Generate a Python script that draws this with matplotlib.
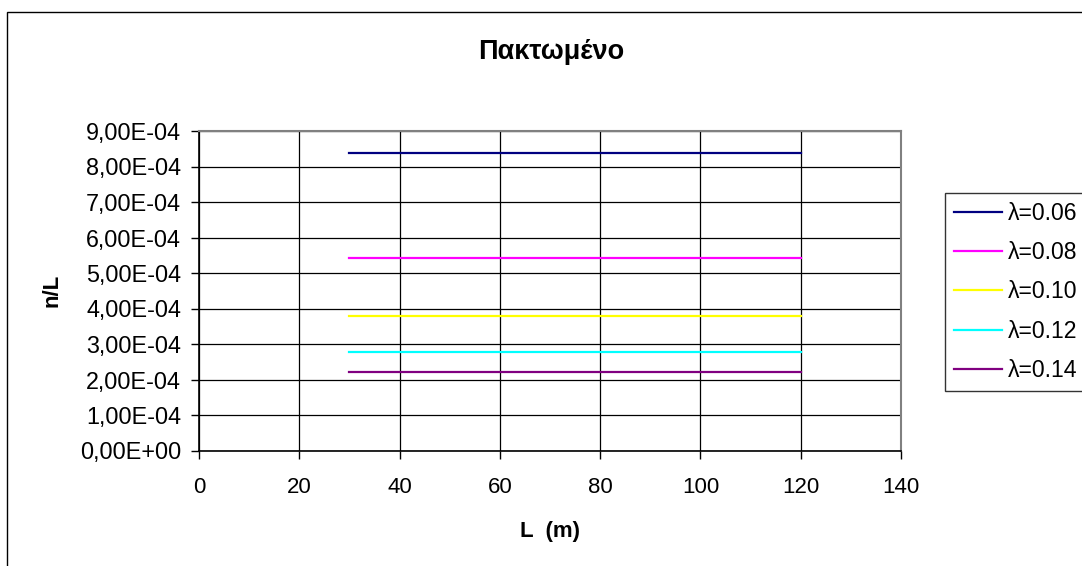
import matplotlib
matplotlib.use("Agg")
import matplotlib.pyplot as plt
from matplotlib.patches import Rectangle
from matplotlib.ticker import FuncFormatter, MultipleLocator

plt.rcParams['font.family'] = ['Liberation Sans', 'DejaVu Sans']

# ---- data ----
L_values = [30, 60, 90, 120]
series_labels = ["λ=0.06", "λ=0.08", "λ=0.10", "λ=0.12", "λ=0.14"]
s006 = [8.38e-4, 8.38e-4, 8.38e-4, 8.38e-4]
s008 = [5.43e-4, 5.43e-4, 5.43e-4, 5.43e-4]
s010 = [3.78e-4, 3.78e-4, 3.78e-4, 3.78e-4]
s012 = [2.78e-4, 2.78e-4, 2.78e-4, 2.78e-4]
s014 = [2.20e-4, 2.20e-4, 2.20e-4, 2.20e-4]
series_values = [s006, s008, s010, s012, s014]
series_colors = ["#000080", "#FF00FF", "#FFFF00", "#00FFFF", "#800080"]

title = "Πακτωμένο"
xlabel = "L  (m)"
ylabel = "n/L"

W, H = 1082, 566
fig = plt.figure(figsize=(W / 100, H / 100), dpi=100)
fig.patch.set_facecolor("white")

# outer chart border (cropped on right/bottom)
fig.patches.append(Rectangle((7 / W, -0.2), 1.5, 1.2 - 12 / H, transform=fig.transFigure,
                             fill=False, edgecolor="black", linewidth=1.0))

left, right = 199 / W, 901 / W
bottom, top = 1 - 450.5 / H, 1 - 131 / H
ax = fig.add_axes([left, bottom, right - left, top - bottom])

handles = []
for vals, lab, col in zip(series_values, series_labels, series_colors):
    h, = ax.plot(L_values, vals, color=col, linewidth=1.6, label=lab, zorder=3)
    handles.append(h)

ax.set_xlim(0, 140)
ax.set_ylim(0, 9e-4)
ax.xaxis.set_major_locator(MultipleLocator(20))
ax.yaxis.set_major_locator(MultipleLocator(1e-4))
ax.yaxis.set_major_formatter(FuncFormatter(lambda v, p: f"{v:.2E}".replace(".", ",")))

ax.grid(True, color="black", linewidth=0.9, zorder=1)
ax.set_axisbelow(True)
for s in ["top", "right"]:
    ax.spines[s].set_color("#808080")
    ax.spines[s].set_linewidth(1.5)
for s in ["left", "bottom"]:
    ax.spines[s].set_color("black")
    ax.spines[s].set_linewidth(1.2)

ax.tick_params(axis="both", direction="out", length=6, width=1, colors="black")
ax.tick_params(axis="y", pad=7, labelsize=16.8)
ax.tick_params(axis="x", pad=13, labelsize=16)

fig.text(551 / W, 1 - 52 / H, title, ha="center", va="center",
         fontsize=19.5, fontweight="bold")
fig.text((left + right) / 2, 1 - 531 / H, xlabel, ha="center", va="center",
         fontsize=16, fontweight="bold")
fig.text(52 / W, 1 - 290 / H, ylabel, ha="center", va="center", rotation=90,
         fontsize=16, fontweight="bold")

leg = fig.legend(handles=handles, loc="upper left",
                 bbox_to_anchor=(945 / W, 1 - 193 / H, 160 / W, 0.0), mode="expand",
                 prop={"size": 16.6}, frameon=True, fancybox=False, edgecolor="black",
                 handlelength=2.08, handletextpad=0.25, labelspacing=0.7,
                 borderpad=0.4, borderaxespad=0.0)
leg.get_frame().set_linewidth(1.0)
for lh in leg.get_lines():
    lh.set_linewidth(1.6)

fig.savefig("out.png", dpi=100, facecolor="white")
